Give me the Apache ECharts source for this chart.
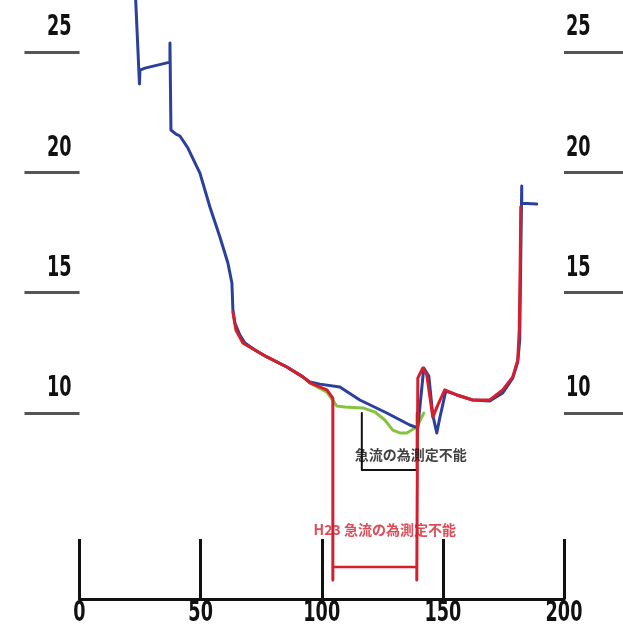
<!DOCTYPE html>
<html>
<head>
<meta charset="utf-8">
<script src="https://cdn.jsdelivr.net/npm/echarts@6/dist/echarts.min.js"></script>
<style>
  html, body { margin: 0; padding: 0; background: #ffffff; }
  #chart { width: 623px; height: 628px; }
</style>
</head>
<body>
<div id="chart"></div>
<script>
// Cross-section profiles: distance (m) vs. elevation
const xTicks = [0, 50, 100, 150, 200];
const yTicks = [10, 15, 20, 25];

// Earlier survey (blue)
const blueLine = [
  [23.1, 27.37], [24.75, 23.67], [24.96, 24.25], [27.02, 24.33], [37.34, 24.58],
  [37.34, 25.37], [37.75, 21.76], [39.81, 21.59], [41.46, 21.51], [44.75, 21.01],
  [49.71, 19.97], [53.84, 18.56], [57.96, 17.31], [61.26, 16.23], [62.91, 15.40],
  [63.33, 14.28], [64.15, 13.74], [66.21, 13.24], [68.28, 12.91], [72.40, 12.62],
  [77.35, 12.33], [85.60, 11.91], [92.20, 11.50], [95.09, 11.29], [99.22, 11.20],
  [107.47, 11.08], [115.72, 10.54], [126.86, 10.00], [136.34, 9.50], [139.65, 9.38],
  [142.12, 11.87], [144.19, 11.54], [145.83, 9.92], [147.48, 9.17], [148.72, 9.79],
  [151.19, 10.91], [155.73, 10.75], [162.33, 10.54], [169.35, 10.50], [174.71, 10.83],
  [178.84, 11.45], [180.90, 12.12], [181.72, 13.03], [182.14, 16.36], [182.55, 19.43],
  [182.55, 18.72], [188.74, 18.68]
];

// Intermediate survey (green)
const greenLine = [
  [67.45, 12.91], [72.40, 12.62], [77.35, 12.33], [85.60, 11.91], [92.20, 11.50],
  [95.09, 11.25], [102.11, 10.87], [105.00, 10.46], [106.23, 10.29], [109.53, 10.25],
  [116.96, 10.21], [121.91, 10.04], [126.03, 9.71], [129.33, 9.29], [132.22, 9.17],
  [135.11, 9.17], [139.23, 9.42], [142.12, 10.00]
];

// H23 survey (red), left bank down to the unmeasured span
const redLeft = [
  [63.33, 14.20], [64.56, 13.45], [67.45, 12.91], [72.40, 12.62], [77.35, 12.33],
  [85.60, 11.91], [92.20, 11.50], [95.09, 11.25], [102.11, 10.96], [104.58, 10.62],
  [104.58, 3.06]
];
// H23 survey (red), from the unmeasured span to the right bank
const redRight = [
  [139.23, 3.06], [139.65, 11.45], [141.71, 11.87], [143.36, 11.58], [145.83, 9.83],
  [147.89, 10.33], [150.78, 10.96], [155.73, 10.75], [162.33, 10.54], [169.35, 10.54],
  [174.71, 10.96], [178.84, 11.50], [180.90, 12.20], [181.52, 13.45], [181.93, 16.36],
  [182.14, 18.56]
];
// H23 unmeasured span bar
const redSpan = [[104.58, 3.60], [139.23, 3.60]];

// Earlier unmeasured span bracket
const blackSpan = [[116.54, 10.0], [116.54, 7.63], [139.23, 7.63], [139.23, 10.0]];

// Annotations: [x, y, text]
const noteBlack = [136.7, 8.26, '急流の為測定不能'];
const noteRed = [126.0, 5.14, 'H23 急流の為測定不能'];

const numFamily = 'DejaVu Sans Condensed';
const numFont = '"' + numFamily + '", "DejaVu Sans", sans-serif';
const cjkFont = '"Noto Sans CJK JP", "Noto Sans CJK SC", sans-serif';

const chart = echarts.init(document.getElementById('chart'), null, { renderer: 'canvas' });

function lineSeries(data, color, width, z) {
  return {
    type: 'line', data: data, symbol: 'none', clip: false, z: z,
    lineStyle: { color: color, width: width, join: 'round', cap: 'round' },
    emphasis: { disabled: true }, silent: true
  };
}
function noteSeries(note, color) {
  return {
    type: 'scatter', clip: false, symbolSize: 0, z: 20, silent: true,
    data: [[note[0], note[1]]],
    label: {
      show: true, position: 'inside', formatter: note[2],
      color: color, fontFamily: cjkFont, fontSize: 14, fontWeight: 'bold'
    }
  };
}

const yAxisBase = {
  type: 'value', min: yTicks[0], max: yTicks[yTicks.length - 1], interval: 5,
  axisLine: { show: false },
  splitLine: { show: false },
  axisTick: { show: true, lineStyle: { color: '#555', width: 3 } },
  axisLabel: {
    fontFamily: numFont, fontSize: 28, fontWeight: 'bold', color: '#111',
    verticalAlign: 'bottom', padding: [0, 0, 10, 0]
  }
};

chart.setOption({
  animation: false,
  backgroundColor: '#ffffff',
  grid: { left: 79.5, right: 59, top: 52, bottom: 215, containLabel: false },
  xAxis: {
    type: 'value', min: xTicks[0], max: xTicks[xTicks.length - 1], interval: 50,
    position: 'bottom', offset: 186,
    axisLine: { show: true, onZero: false, lineStyle: { color: '#111', width: 3 } },
    axisTick: { show: true, inside: true, length: 60, lineStyle: { color: '#111', width: 3 } },
    splitLine: { show: false },
    axisLabel: {
      fontFamily: numFont, fontSize: 28, fontWeight: 'bold', color: '#111', margin: 1
    }
  },
  yAxis: [
    Object.assign({}, yAxisBase, {
      position: 'left',
      axisTick: Object.assign({}, yAxisBase.axisTick, { length: 55 }),
      axisLabel: Object.assign({}, yAxisBase.axisLabel, { align: 'right', margin: 8 })
    }),
    Object.assign({}, yAxisBase, {
      position: 'right',
      axisTick: Object.assign({}, yAxisBase.axisTick, { length: 60 }),
      axisLabel: Object.assign({}, yAxisBase.axisLabel, { align: 'left', margin: 2 })
    })
  ],
  series: [
    lineSeries(blackSpan, '#111', 2, 2),
    lineSeries(greenLine, '#86c43f', 3, 3),
    lineSeries(blueLine, '#2b3f9c', 3, 4),
    lineSeries(redSpan, '#d4202e', 2.5, 5),
    lineSeries(redLeft, '#d4202e', 3, 6),
    lineSeries(redRight, '#d4202e', 3, 6),
    noteSeries(noteBlack, '#111'),
    noteSeries(noteRed, '#d4202e')
  ]
});

// Narrow the numeric tick labels horizontally around their anchor point
(function condenseTickLabels(scale) {
  const zr = chart.getZr();
  zr.storage.getRoots().forEach(function (root) {
    const visit = function (el) {
      if (el.type === 'text' && el.style) {
        const fam = el.style.fontFamily || el.style.font || '';
        if (fam.indexOf(numFamily) >= 0) {
          el.scaleX = scale;
          el.markRedraw();
        }
      }
    };
    visit(root);
    if (root.traverse) root.traverse(visit);
  });
  zr.refreshImmediately();
})(0.7);
</script>
</body>
</html>
